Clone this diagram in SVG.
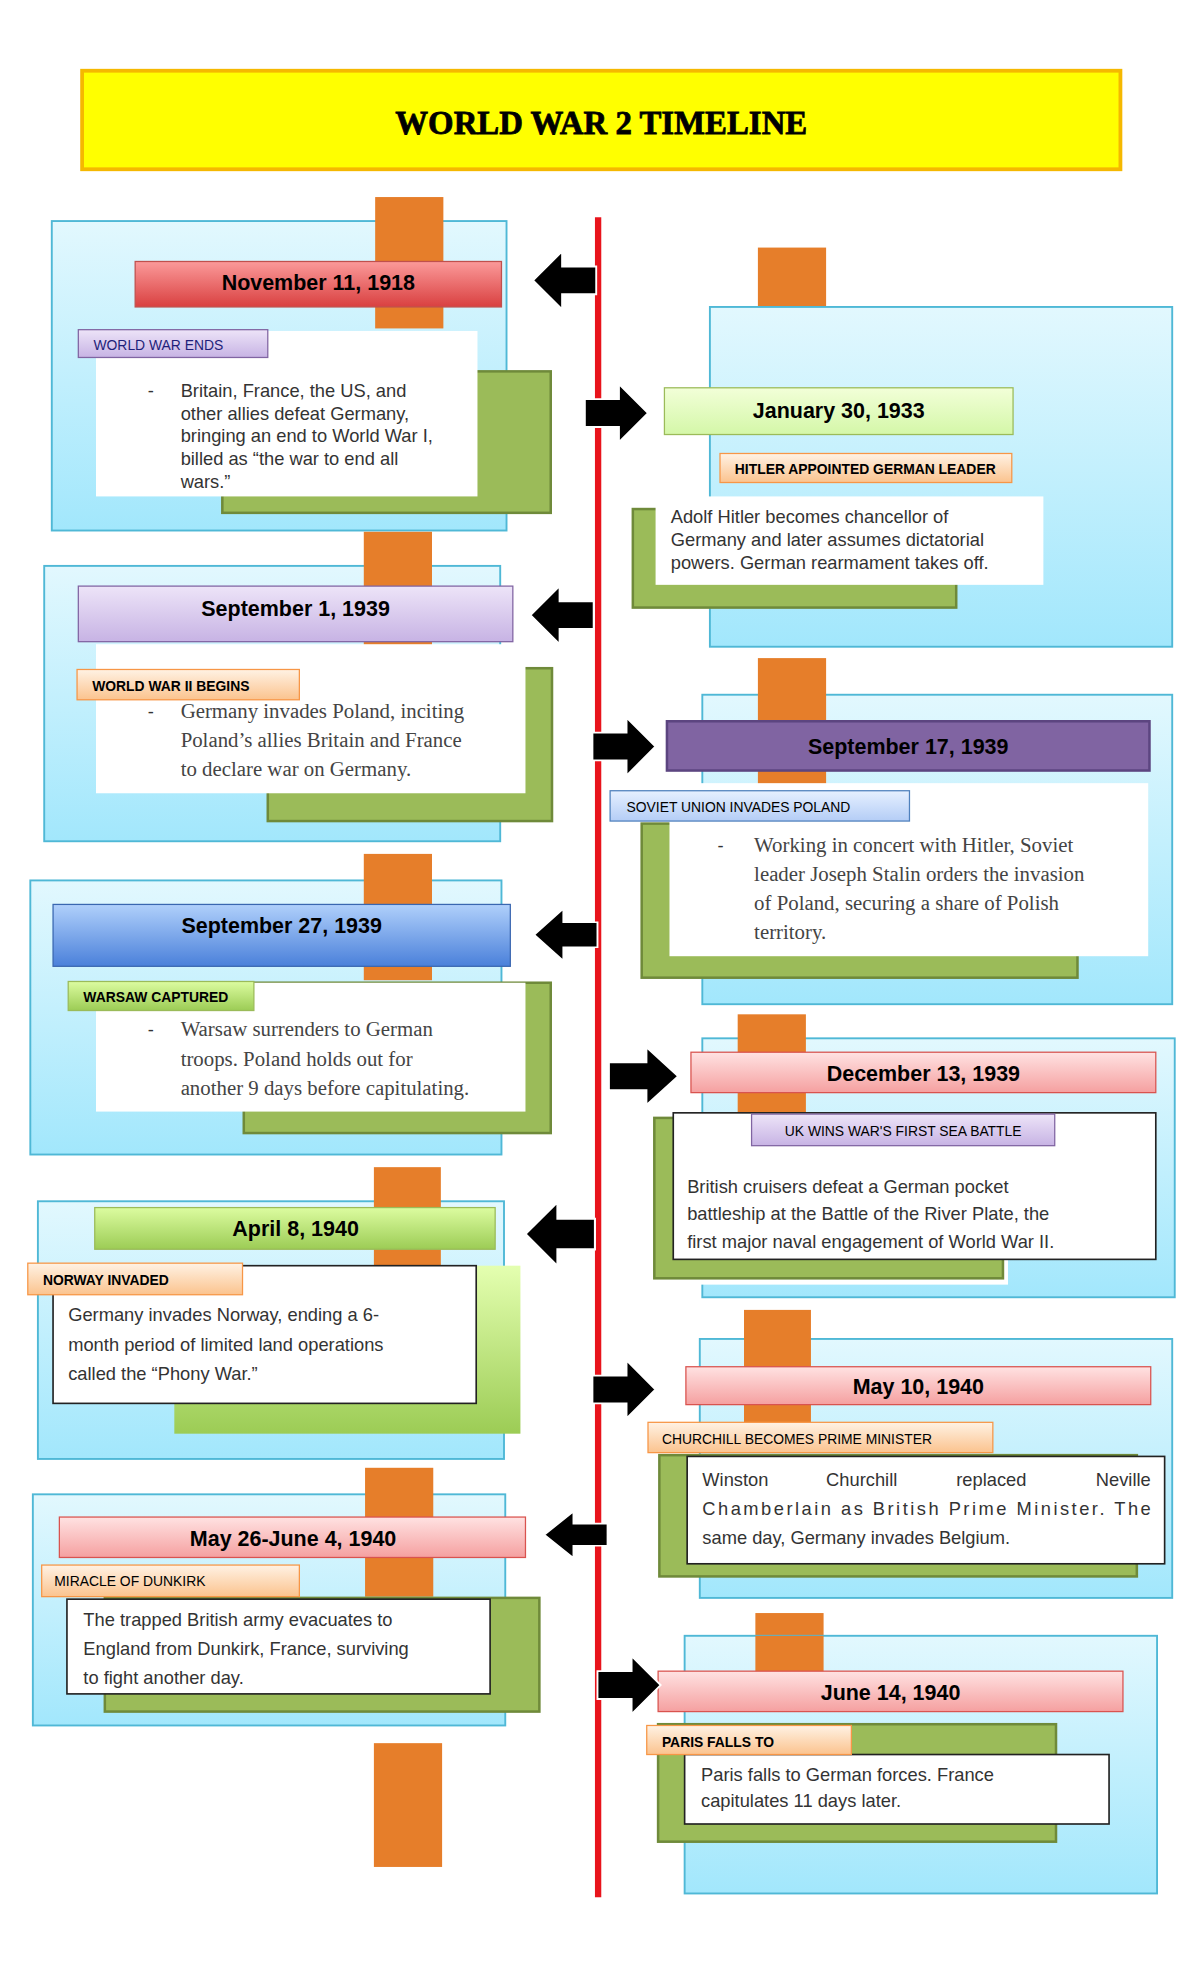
<svg xmlns="http://www.w3.org/2000/svg" width="1200" height="1976" viewBox="0 0 1200 1976">
<defs>
<linearGradient id="gPanel" x1="0" y1="0" x2="0" y2="1"><stop offset="0" stop-color="#e2f8fe"/><stop offset="1" stop-color="#a2e7fc"/></linearGradient>
<linearGradient id="gRed" x1="0" y1="0" x2="0" y2="1"><stop offset="0" stop-color="#fb9a9a"/><stop offset="1" stop-color="#d94040"/></linearGradient>
<linearGradient id="gPink" x1="0" y1="0" x2="0" y2="1"><stop offset="0" stop-color="#ffe2e2"/><stop offset="1" stop-color="#f5a0a0"/></linearGradient>
<linearGradient id="gLGreen" x1="0" y1="0" x2="0" y2="1"><stop offset="0" stop-color="#f2ffd8"/><stop offset="1" stop-color="#d4f7a8"/></linearGradient>
<linearGradient id="gGreenH" x1="0" y1="0" x2="0" y2="1"><stop offset="0" stop-color="#dcfca0"/><stop offset="1" stop-color="#9ccc55"/></linearGradient>
<linearGradient id="gGreenBox" x1="0" y1="0" x2="0" y2="1"><stop offset="0" stop-color="#e4ffb0"/><stop offset="1" stop-color="#9ccc55"/></linearGradient>
<linearGradient id="gPurple" x1="0" y1="0" x2="0" y2="1"><stop offset="0" stop-color="#ede4f8"/><stop offset="1" stop-color="#c7b3e4"/></linearGradient>
<linearGradient id="gBlue" x1="0" y1="0" x2="0" y2="1"><stop offset="0" stop-color="#b0d0fb"/><stop offset="1" stop-color="#4a80da"/></linearGradient>
<linearGradient id="gLBlue" x1="0" y1="0" x2="0" y2="1"><stop offset="0" stop-color="#e6f0ff"/><stop offset="1" stop-color="#b4cdf6"/></linearGradient>
<linearGradient id="gOrange" x1="0" y1="0" x2="0" y2="1"><stop offset="0" stop-color="#fff2e4"/><stop offset="1" stop-color="#fbc38e"/></linearGradient>
<path id="arr" d="M0,-11 H27 V-23 L50,0 L27,23 V11 H0Z" fill="#000"/>
</defs>
<style>
.panel{fill:url(#gPanel);stroke:#4fb8d6;stroke-width:1.5}
.bar{fill:#e67e2a}
.grn{fill:#9bbb59;stroke:#6f8a3a;stroke-width:2}
.wht{fill:#fff}
.wb{fill:#fff;stroke:#222;stroke-width:1.3}
.hd{font-family:"Liberation Sans",Arial,sans-serif;font-weight:bold;font-size:17px;fill:#000;text-anchor:middle;dominant-baseline:central}
.lb{font-family:"Liberation Sans",Arial,sans-serif;font-size:11px;dominant-baseline:central}
.lbb{font-family:"Liberation Sans",Arial,sans-serif;font-size:11px;font-weight:bold;dominant-baseline:central}
.tx{font-family:"Liberation Sans",Arial,sans-serif;font-size:14.5px;fill:#333;dominant-baseline:central}
.sf{font-family:"Liberation Serif","DejaVu Serif",serif;font-size:16.5px;fill:#444;dominant-baseline:central}
</style>
<g transform="scale(1.26316)">
<g id="title">
<rect x="65" y="56" width="822" height="78" fill="#ffff00" stroke="#f5b800" stroke-width="3"/>
<text x="476" y="97" font-family="Liberation Serif,serif" font-weight="bold" font-size="26" text-anchor="middle" dominant-baseline="central" stroke="#000" stroke-width="0.6">WORLD WAR 2 TIMELINE</text>
</g>
<rect x="471" y="172" width="5" height="1330" fill="#e8141c"/>

<g id="e1">
<rect class="panel" x="41" y="175" width="360" height="245"/>
<rect class="bar" x="297" y="156" width="54" height="104"/>
<rect class="grn" x="176" y="294" width="260" height="112"/>
<rect class="wht" x="76" y="262" width="302" height="131"/>
<rect x="107" y="207" width="290" height="36" fill="url(#gRed)" stroke="#c0504d"/>
<text class="hd" x="252" y="224">November 11, 1918</text>
<rect x="62" y="261" width="150" height="22" fill="url(#gPurple)" stroke="#8064a2"/>
<text class="lb" x="74" y="273" fill="#1f1f7a">WORLD WAR ENDS</text>
<text class="tx" x="117" y="309">-</text>
<text class="tx" x="143" y="309">Britain, France, the US, and</text>
<text class="tx" x="143" y="327">other allies defeat Germany,</text>
<text class="tx" x="143" y="345">bringing an end to World War I,</text>
<text class="tx" x="143" y="363">billed as “the war to end all</text>
<text class="tx" x="143" y="381">wars.”</text>
</g>

<g id="e2">
<rect class="bar" x="600" y="196" width="54" height="60"/>
<rect class="panel" x="562" y="243" width="366" height="269"/>
<rect class="grn" x="501" y="403" width="256" height="78"/>
<rect class="wht" x="519" y="393" width="307" height="70"/>
<rect x="526" y="307" width="276" height="37" fill="url(#gLGreen)" stroke="#9bbb59"/>
<text class="hd" x="664" y="325">January 30, 1933</text>
<rect x="570" y="359" width="231" height="23" fill="url(#gOrange)" stroke="#f79646"/>
<text class="lbb" x="685" y="371" text-anchor="middle">HITLER APPOINTED GERMAN LEADER</text>
<text class="tx" x="531" y="409">Adolf Hitler becomes chancellor of</text>
<text class="tx" x="531" y="427">Germany and later assumes dictatorial</text>
<text class="tx" x="531" y="445">powers. German rearmament takes off.</text>
</g>

<g id="e3">
<rect class="panel" x="35" y="448" width="361" height="218"/>
<rect class="bar" x="288" y="421" width="54" height="100"/>
<rect class="grn" x="212" y="529" width="225" height="121"/>
<rect class="wht" x="76" y="510" width="340" height="118"/>
<rect x="62" y="464" width="344" height="44" fill="url(#gPurple)" stroke="#8064a2"/>
<text class="hd" x="234" y="482">September 1, 1939</text>
<rect x="61" y="530" width="176" height="24" fill="url(#gOrange)" stroke="#f79646"/>
<text class="lbb" x="73" y="543" fill="#000">WORLD WAR II BEGINS</text>
<text class="tx" x="117" y="563">-</text>
<text class="sf" x="143" y="563">Germany invades Poland, inciting</text>
<text class="sf" x="143" y="586">Poland’s allies Britain and France</text>
<text class="sf" x="143" y="609">to declare war on Germany.</text>
</g>

<g id="e4">
<rect class="panel" x="556" y="550" width="372" height="245"/>
<rect class="bar" x="600" y="521" width="54" height="100"/>
<rect class="grn" x="508" y="652" width="345" height="122"/>
<rect class="wht" x="530" y="620" width="379" height="137"/>
<rect x="528" y="571" width="382" height="39" fill="#8064a2" stroke="#5c4580" stroke-width="2"/>
<text class="hd" x="719" y="591">September 17, 1939</text>
<rect x="483" y="626" width="237" height="24" fill="url(#gLBlue)" stroke="#4f81bd"/>
<text class="lb" x="496" y="639" fill="#000" font-size="12">SOVIET UNION INVADES POLAND</text>
<text class="tx" x="568" y="669">-</text>
<text class="sf" x="597" y="669">Working in concert with Hitler, Soviet</text>
<text class="sf" x="597" y="692">leader Joseph Stalin orders the invasion</text>
<text class="sf" x="597" y="715">of Poland, securing a share of Polish</text>
<text class="sf" x="597" y="738">territory.</text>
</g>

<g id="e5">
<rect class="panel" x="24" y="697" width="373" height="217"/>
<rect class="bar" x="288" y="676" width="54" height="100"/>
<rect class="grn" x="193" y="778" width="243" height="119"/>
<rect class="wht" x="76" y="778" width="340" height="102"/>
<rect x="42" y="716" width="362" height="49" fill="url(#gBlue)" stroke="#3a67b0"/>
<text class="hd" x="223" y="733">September 27, 1939</text>
<rect x="54" y="777" width="147" height="23" fill="url(#gGreenH)" stroke="#9bbb59"/>
<text class="lbb" x="66" y="789" fill="#000">WARSAW CAPTURED</text>
<text class="tx" x="117" y="815">-</text>
<text class="sf" x="143" y="815">Warsaw surrenders to German</text>
<text class="sf" x="143" y="838">troops. Poland holds out for</text>
<text class="sf" x="143" y="861">another 9 days before capitulating.</text>
</g>

<g id="e6">
<rect class="panel" x="556" y="822" width="374" height="205"/>
<rect class="bar" x="584" y="803" width="54" height="102"/>
<rect x="514" y="881" width="284" height="136" fill="#fff"/>
<rect class="grn" x="518" y="885" width="276" height="127"/>
<rect class="wb" x="533" y="881" width="382" height="116"/>
<rect x="547" y="833" width="368" height="32" fill="url(#gPink)" stroke="#d9534f"/>
<text class="hd" x="731" y="850">December 13, 1939</text>
<rect x="595" y="882" width="240" height="25" fill="url(#gPurple)" stroke="#8064a2"/>
<text class="lb" x="715" y="895" text-anchor="middle" fill="#000" font-size="12">UK WINS WAR'S FIRST SEA BATTLE</text>
<text class="tx" x="544" y="939" font-size="16">British cruisers defeat a German pocket</text>
<text class="tx" x="544" y="961" font-size="16">battleship at the Battle of the River Plate, the</text>
<text class="tx" x="544" y="983" font-size="16">first major naval engagement of World War II.</text>
</g>

<g id="e7">
<rect class="panel" x="30" y="951" width="369" height="204"/>
<rect class="bar" x="296" y="924" width="53" height="106"/>
<rect x="138" y="1002" width="274" height="133" fill="url(#gGreenBox)"/>
<rect class="wb" x="42" y="1002" width="335" height="109"/>
<rect x="75" y="956" width="317" height="33" fill="url(#gGreenH)" stroke="#9bbb59"/>
<text class="hd" x="234" y="973">April 8, 1940</text>
<rect x="22" y="1000" width="170" height="25" fill="url(#gOrange)" stroke="#f79646"/>
<text class="lbb" x="34" y="1013" fill="#000" font-size="12">NORWAY INVADED</text>
<text class="tx" x="54" y="1041" font-size="16">Germany invades Norway, ending a 6-</text>
<text class="tx" x="54" y="1064" font-size="16">month period of limited land operations</text>
<text class="tx" x="54" y="1087" font-size="16">called the “Phony War.”</text>
</g>

<g id="e8">
<rect class="panel" x="554" y="1060" width="374" height="205"/>
<rect class="bar" x="589" y="1037" width="53" height="110"/>
<rect class="grn" x="522" y="1152" width="378" height="96"/>
<rect class="wb" x="544" y="1153" width="378" height="85"/>
<rect x="543" y="1082" width="368" height="30" fill="url(#gPink)" stroke="#d9534f"/>
<text class="hd" x="727" y="1098">May 10, 1940</text>
<rect x="513" y="1126" width="273" height="24" fill="url(#gOrange)" stroke="#f79646"/>
<text class="lb" x="524" y="1139" fill="#000" font-size="12">CHURCHILL BECOMES PRIME MINISTER</text>
<text class="tx" x="556" y="1171" font-size="16">Winston</text>
<text class="tx" x="654" y="1171" font-size="16">Churchill</text>
<text class="tx" x="757" y="1171" font-size="16">replaced</text>
<text class="tx" x="911" y="1171" font-size="16" text-anchor="end">Neville</text>
<text class="tx" x="556" y="1194" font-size="16" textLength="355" lengthAdjust="spacing">Chamberlain as British Prime Minister. The</text>
<text class="tx" x="556" y="1217" font-size="16">same day, Germany invades Belgium.</text>
</g>

<g id="e9">
<rect class="panel" x="26" y="1183" width="374" height="183"/>
<rect class="bar" x="289" y="1162" width="54" height="102"/>
<rect class="grn" x="83" y="1265" width="344" height="90"/>
<rect class="wb" x="53" y="1266" width="335" height="75"/>
<rect x="47" y="1201" width="369" height="32" fill="url(#gPink)" stroke="#d9534f"/>
<text class="hd" x="232" y="1218">May 26-June 4, 1940</text>
<rect x="33" y="1239" width="204" height="25" fill="url(#gOrange)" stroke="#f79646"/>
<text class="lb" x="43" y="1252" fill="#000" font-size="12">MIRACLE OF DUNKIRK</text>
<text class="tx" x="66" y="1282" font-size="16">The trapped British army evacuates to</text>
<text class="tx" x="66" y="1305" font-size="16">England from Dunkirk, France, surviving</text>
<text class="tx" x="66" y="1328" font-size="16">to fight another day.</text>
</g>

<g id="e10">
<rect class="bar" x="598" y="1277" width="54" height="50"/>
<rect class="panel" x="542" y="1295" width="374" height="204"/>
<rect class="bar" x="598" y="1295" width="54" height="30"/>
<rect class="grn" x="521" y="1365" width="315" height="93"/>
<rect class="wb" x="542" y="1389" width="336" height="55"/>
<rect x="521" y="1323" width="368" height="32" fill="url(#gPink)" stroke="#d9534f"/>
<text class="hd" x="705" y="1340">June 14, 1940</text>
<rect x="512" y="1366" width="162" height="23" fill="url(#gOrange)" stroke="#f79646"/>
<text class="lbb" x="524" y="1379" fill="#000" font-size="12">PARIS FALLS TO</text>
<text class="tx" x="555" y="1405" font-size="16">Paris falls to German forces. France</text>
<text class="tx" x="555" y="1425" font-size="16">capitulates 11 days later.</text>
</g>
<rect class="bar" x="296" y="1380" width="54" height="98"/>

<g id="connectors" stroke="#fff" stroke-width="1.5">
<use href="#arr" transform="translate(472,222) scale(-1,1)"/>
<use href="#arr" transform="translate(463,327)"/>
<use href="#arr" transform="translate(470,487) scale(-1,1)"/>
<use href="#arr" transform="translate(469,591)"/>
<use href="#arr" transform="translate(473,740) scale(-1,0.9)"/>
<use href="#arr" transform="translate(482,852) scale(1.1,1)"/>
<use href="#arr" transform="translate(471,977) scale(-1.1,1.1)"/>
<use href="#arr" transform="translate(469,1100)"/>
<use href="#arr" transform="translate(481,1215) scale(-1,0.8)"/>
<use href="#arr" transform="translate(473,1334)"/>
</g>
</g>
</svg>
